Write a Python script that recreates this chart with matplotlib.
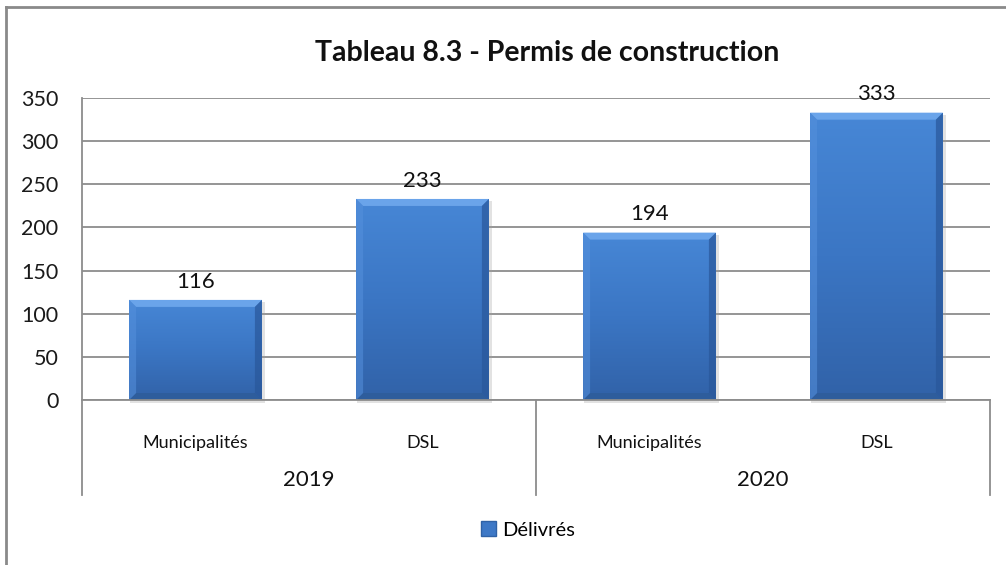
import matplotlib
matplotlib.use("Agg")
import matplotlib.pyplot as plt
import numpy as np
from matplotlib.patches import Polygon, Patch
from matplotlib.lines import Line2D
from matplotlib.colors import LinearSegmentedColormap

# ---- data ----
years = ["2019", "2020"]
groups = ["Municipalités", "DSL"]
values = [116, 233, 194, 333]
series_name = "Délivrés"
title = "Tableau 8.3 - Permis de construction"
yticks = [0, 50, 100, 150, 200, 250, 300, 350]

FONT = "Lato"
plt.rcParams['font.family'] = [FONT, 'DejaVu Sans']

W, H = 1006, 565
fig = plt.figure(figsize=(W / 100, H / 100), dpi=100)
fig.patch.set_facecolor("white")

# axes placement (pixels -> fraction)
L, R, T, B = 82, 990, 98, 400
ax = fig.add_axes([L / W, 1 - B / H, (R - L) / W, (B - T) / H])

n = len(values)
x = np.arange(n)
bw = 0.585
grid_c = "#8c8c8c"

ax.set_xlim(-0.5, n - 0.5)
ax.set_ylim(0, 350)
ax.set_yticks(yticks)
ax.yaxis.grid(True, color=grid_c, linewidth=1.3)
ax.set_axisbelow(True)
ax.set_xticks([])
ax.tick_params(axis='y', length=0, pad=17, labelsize=15.5, labelcolor="#1a1a1a")
for s in ["top", "right"]:
    ax.spines[s].set_visible(False)
ax.spines["left"].set_visible(False)
ax.spines["bottom"].set_color(grid_c)
ax.spines["bottom"].set_linewidth(1.3)

bars = ax.bar(x, values, width=bw, color="#3d78c6", zorder=2, linewidth=0)

# pixel -> data scale
px_x = (n) / (R - L)
px_y = 350 / (B - T)
bev = 7
dx, dy = bev * px_x, bev * px_y

cmap = LinearSegmentedColormap.from_list("b", ["#3162a8", "#3b76c4", "#4787d6"])
grad = np.linspace(0, 1, 256).reshape(-1, 1)

for b in bars:
    x0 = b.get_x(); x1 = x0 + b.get_width(); h = b.get_height()
    # shadow
    sh = Polygon([(x0 + 1 * px_x, -3 * px_y), (x1 + 3 * px_x, -3 * px_y),
                  (x1 + 3 * px_x, h - 2 * px_y), (x0 + 1 * px_x, h - 2 * px_y)],
                 closed=True, facecolor="#a0a0a0", alpha=0.3, edgecolor="none",
                 zorder=1.5, clip_on=False)
    ax.add_patch(sh)
    im = ax.imshow(grad, extent=(x0, x1, 0, h), origin="lower", aspect="auto",
                   cmap=cmap, zorder=2.1, interpolation="bilinear")
    im.set_clip_path(b)
    # bevels
    top = Polygon([(x0, h), (x1, h), (x1 - dx, h - dy), (x0 + dx, h - dy)],
                  facecolor="#6aa4ea", edgecolor="none", zorder=2.2)
    bot = Polygon([(x0, 0), (x1, 0), (x1 - dx, dy), (x0 + dx, dy)],
                  facecolor="#2e5d9c", edgecolor="none", zorder=2.2)
    lft = Polygon([(x0, 0), (x0, h), (x0 + dx, h - dy), (x0 + dx, dy)],
                  facecolor="#5590dc", edgecolor="none", zorder=2.2, alpha=0.55)
    rgt = Polygon([(x1, 0), (x1, h), (x1 - dx, h - dy), (x1 - dx, dy)],
                  facecolor="#29579a", edgecolor="none", zorder=2.2, alpha=0.7)
    for p in (top, bot, lft, rgt):
        ax.add_patch(p)
    ax.annotate(f"{int(h)}", (b.get_x() + b.get_width() / 2, h), xytext=(0, 6),
                textcoords="offset points", ha="center", va="bottom",
                fontsize=16, color="#111111", zorder=5)

ax.set_xlim(-0.5, n - 0.5)
ax.set_ylim(0, 350)

# hierarchical axis
ext = -(495 - B) / (B - T)
trans = ax.transAxes
for xa in (0.0, 0.5, 1.0):
    ax.add_line(Line2D([xa, xa], [1.0 if xa == 0 else 0.0, ext], transform=trans,
                       color=grid_c, linewidth=1.3, clip_on=False, zorder=3))
cat_y = -(443 - B) / (B - T)
yr_y = -(480 - B) / (B - T)
labels = [g for _ in years for g in groups]
for i, lab in enumerate(labels):
    ax.text(i, cat_y, lab, transform=ax.get_xaxis_transform(), ha="center",
            va="center", fontsize=13, color="#111111")
for j, yr in enumerate(years):
    ax.text(j * 2 + 0.5, yr_y, yr, transform=ax.get_xaxis_transform(), ha="center",
            va="center", fontsize=16, color="#111111")

# title
fig.text(547 / W, 1 - 53 / H, title, ha="center", va="center",
         fontsize=20.5, fontweight="bold", color="#111111")

# legend
handle = Patch(facecolor="#3d78c6", edgecolor="#2f62a6")
fig.legend([handle], [series_name], loc="center", bbox_to_anchor=(528 / W, 1 - 530 / H),
           frameon=False, fontsize=14.5, handlelength=0.75, handleheight=0.75,
           handletextpad=0.3)

# chart border (top & left visible)
fig.add_artist(Line2D([6 / W, 6 / W], [1 - 7 / H, -0.1], transform=fig.transFigure,
                      color="#8a8a8a", linewidth=2))
fig.add_artist(Line2D([6 / W, 1.1], [1 - 7 / H, 1 - 7 / H], transform=fig.transFigure,
                      color="#8a8a8a", linewidth=2))

fig.savefig("out.png", dpi=100)
